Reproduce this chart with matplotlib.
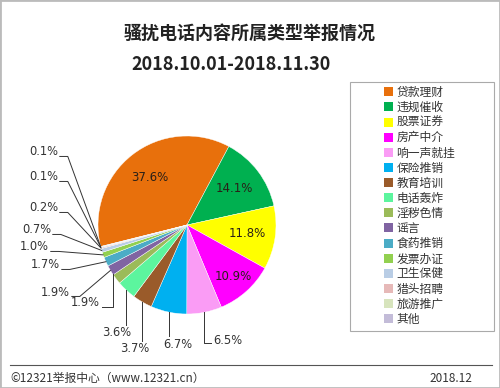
import numpy as np
import matplotlib.pyplot as plt
from matplotlib.patches import Rectangle
from matplotlib.lines import Line2D

plt.rcParams['font.family'] = ['Noto Sans CJK SC', 'DejaVu Sans']

categories = ['贷款理财', '违规催收', '股票证券', '房产中介', '响一声就挂', '保险推销',
              '教育培训', '电话轰炸', '淫秽色情', '谣言', '食药推销', '发票办证',
              '卫生保健', '猎头招聘', '旅游推广', '其他']
values = [37.6, 14.1, 11.8, 10.9, 6.5, 6.7, 3.7, 3.6, 1.9, 1.9, 1.7, 1.0, 0.7, 0.2, 0.1, 0.1]
colors = ['#E8700C', '#00B050', '#FFFF00', '#FF00FF', '#FA9CF5', '#00B0F0',
          '#9A5B2A', '#5CF59E', '#9BBB59', '#8064A2', '#4BACC6', '#92D050',
          '#B9CDE5', '#E6B9B8', '#D7E4BD', '#C3BCD8']

W, H = 500, 388
CX, CY, R = 187, 225, 89   # pie centre / radius in pixels

fig = plt.figure(figsize=(5, 3.88), dpi=100)
fig.patch.set_facecolor('white')

lim = 1.6
ax = fig.add_axes([(CX - lim * R) / W, (H - CY - lim * R) / H, 2 * lim * R / W, 2 * lim * R / H])

wedges, _ = ax.pie(values, colors=colors, startangle=194, counterclock=False,
                   radius=1.0, wedgeprops=dict(linewidth=0.3, edgecolor='white'))
ax.set_xlim(-lim, lim)
ax.set_ylim(-lim, lim)
ax.axis('off')


def to_data(px, py):
    return (px - CX) / R, (CY - py) / R


def mid(w):
    return np.deg2rad((w.theta1 + w.theta2) / 2)


# labels inside the big slices
for i, r in zip(range(4), [0.68, 0.67, 0.68, 0.78]):
    a = mid(wedges[i])
    ax.text(r * np.cos(a), r * np.sin(a), f'{values[i]:.1f}%', ha='center', va='center',
            fontsize=8.5, color='#2a2018', family='DejaVu Sans')

lc = '#333333'
fs = 8.3
# bottom labels: vertical leader down from the edge
bottom = {4: (203, 341, 'left'), 5: (178, 344, 'center'), 6: (135, 349, 'center'), 7: (117, 333, 'center')}
for i, (tx, ty, ha) in bottom.items():
    a = mid(wedges[i])
    ex, ey = np.cos(a), np.sin(a)
    x0, y0 = to_data(tx, ty)
    if ha == 'left':
        ax.plot([ex, ex, x0 + 0.09], [ey, y0 - 0.02, y0 - 0.02], color=lc, lw=0.7, clip_on=False)
        ax.text(x0 + 0.12, y0, f'{values[i]:.1f}%', ha='left', va='center', fontsize=fs,
                color=lc, family='DejaVu Sans')
    else:
        ax.plot([ex, ex], [ey, y0 + 0.09], color=lc, lw=0.7, clip_on=False)
        ax.text(x0, y0, f'{values[i]:.1f}%', ha='center', va='center', fontsize=fs,
                color=lc, family='DejaVu Sans')

# left labels: short tick after the text, then a line to the edge
left = {8: (100, 303), 9: (70, 292), 10: (60, 265), 11: (49, 247),
        12: (51, 230), 13: (58, 208), 14: (58, 177), 15: (58, 152)}
for i, (rx, ty) in left.items():
    a = mid(wedges[i])
    ex, ey = np.cos(a), np.sin(a)
    x0, y0 = to_data(rx, ty)
    ax.text(x0, y0, f'{values[i]:.1f}%', ha='right', va='center', fontsize=fs,
            color=lc, family='DejaVu Sans')
    yl = y0 - 0.05
    if i == 8:
        xe = (113 - CX) / R
        ye = -np.sqrt(1 - xe ** 2)
        ax.plot([x0 + 0.02, xe, xe], [yl, yl, ye], color=lc, lw=0.7, clip_on=False)
    else:
        ax.plot([x0 + 0.02, x0 + 0.11, ex], [yl, yl, ey], color=lc, lw=0.7, clip_on=False)

# titles
fig.text(0.5, 1 - 33 / H, '骚扰电话内容所属类型举报情况', ha='center', va='center',
         fontsize=13, fontweight='bold', color='#222222')
fig.text(0.462, 1 - 65 / H, '2018.10.01-2018.11.30', ha='center', va='center',
         fontsize=13, fontweight='bold', color='#222222')

# legend box
fig.patches.append(Rectangle((350 / W, 1 - 331 / H), 144 / W, 249 / H, transform=fig.transFigure,
                             facecolor='white', edgecolor='#AAAAAA', linewidth=0.8))
handles = [Rectangle((0, 0), 1, 1, facecolor=c, edgecolor='none') for c in colors]
fig.legend(handles, categories, loc='upper left', bbox_to_anchor=(378 / W, 1 - 80 / H),
           frameon=False, fontsize=8.5, handlelength=0.8, handleheight=0.8,
           handletextpad=0.25, labelspacing=0.18, borderpad=0, labelcolor='#333333')

# footer
fig.add_artist(Line2D([10 / W, 492 / W], [1 - 365 / H] * 2, color='#555555', lw=0.8))
fig.text(10 / W, 1 - 378 / H, '©12321举报中心（www.12321.cn）', ha='left', va='center',
         fontsize=8.5, color='#333333')
fig.text(472 / W, 1 - 378 / H, '2018.12', ha='right', va='center', fontsize=8.5, color='#333333')

# outer frame
fig.patches.append(Rectangle((0, 0), 1, 1, transform=fig.transFigure, facecolor='none',
                             edgecolor='#BBBBBB', linewidth=2))

fig.savefig('out.png', dpi=100)
